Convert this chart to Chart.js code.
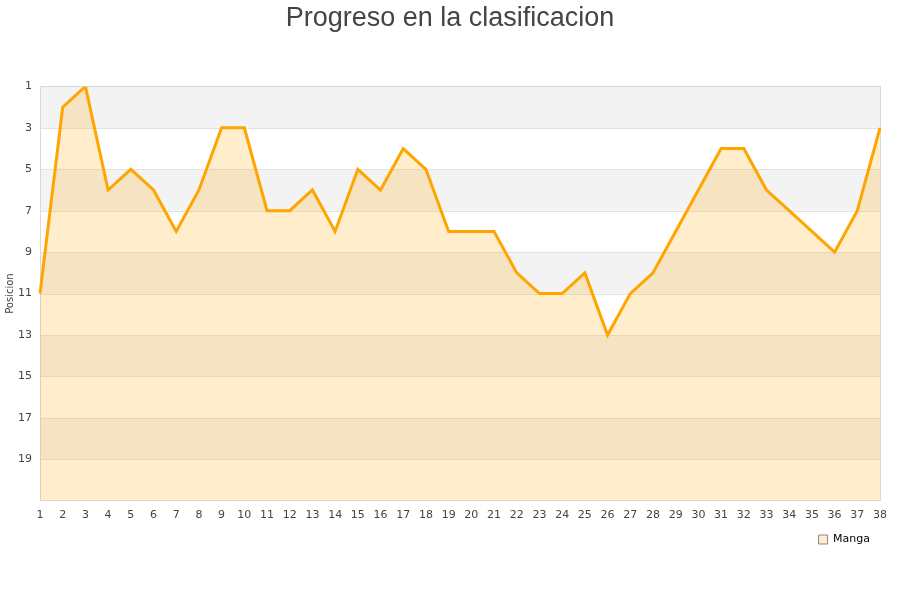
<!DOCTYPE html>
<html>
<head>
<meta charset="utf-8">
<script src="https://cdn.jsdelivr.net/npm/chart.js@4/dist/chart.umd.min.js"></script>
<style>
html, body { margin: 0; padding: 0; background: #fff; }
#wrap { width: 900px; height: 600px; }
</style>
</head>
<body>
<div id="wrap"><canvas id="chart" width="900" height="600"></canvas></div>
<script>
// jornadas y posicion de cada una
const jornadas = ['1','2','3','4','5','6','7','8','9','10','11','12','13','14','15','16','17','18','19','20',
  '21','22','23','24','25','26','27','28','29','30','31','32','33','34','35','36','37','38'];
const posiciones = [11, 2, 1, 6, 5, 6, 8, 6, 3, 3, 7, 7, 6, 8, 5, 6, 4, 5, 8, 8,
  8, 10, 11, 11, 10, 13, 11, 10, 8, 6, 4, 4, 6, 7, 8, 9, 7, 3];
const ticksY = [1, 3, 5, 7, 9, 11, 13, 15, 17, 19];

// bandas grises alternas + marco del area
const bandas = {
  id: 'bandas',
  beforeDatasetsDraw(c) {
    const ctx = c.ctx, a = c.chartArea, y = c.scales.y;
    ctx.save();
    for (let v = 1; v < 21; v += 4) {
      const t = y.getPixelForValue(v), b = y.getPixelForValue(Math.min(v + 2, 21));
      ctx.fillStyle = '#f3f3f3';
      ctx.fillRect(a.left, t, a.right - a.left, b - t);
    }
    ctx.strokeStyle = '#e2e2e2';
    ctx.lineWidth = 1;
    ticksY.forEach(v => {
      const p = Math.round(y.getPixelForValue(v)) + 0.5;
      ctx.beginPath(); ctx.moveTo(a.left, p); ctx.lineTo(a.right, p); ctx.stroke();
    });
    ctx.strokeStyle = '#d9d9d9';
    ctx.strokeRect(Math.round(a.left) + 0.5, Math.round(a.top) + 0.5, Math.round(a.right - a.left), Math.round(a.bottom - a.top));
    ctx.restore();
  }
};

const ctx = document.getElementById('chart').getContext('2d');
const chart = new Chart(ctx, {
  type: 'line',
  data: {
    labels: jornadas,
    datasets: [{
      label: 'Manga',
      data: posiciones,
      borderColor: '#ffa500',
      backgroundColor: 'rgba(255,165,0,0.2)',
      borderWidth: 3,
      pointRadius: 0,
      tension: 0,
      fill: 'start'
    }]
  },
  options: {
    responsive: false,
    animation: false,
    layout: { padding: { left: 0, right: 0, top: 0, bottom: 45 } },
    plugins: {
      title: {
        display: true,
        text: 'Progreso en la clasificacion',
        color: '#444',
        font: { family: 'Liberation Sans', size: 27, weight: 'normal' },
        padding: { top: 2, bottom: 52 }
      },
      legend: {
        position: 'bottom',
        align: 'end',
        fullSize: false,
        labels: {
          color: '#000',
          font: { family: 'DejaVu Sans', size: 11 },
          boxWidth: 9,
          boxHeight: 9,
          padding: 10,
          generateLabels: () => [{
            text: 'Manga',
            fillStyle: 'rgba(255,165,0,0.2)',
            strokeStyle: '#888',
            lineWidth: 1,
            datasetIndex: 0
          }]
        }
      },
      tooltip: { enabled: false }
    },
    scales: {
      x: {
        offset: false,
        afterFit: s => { s.height -= 6; },
        grid: { display: false, drawTicks: false },
        border: { display: false },
        ticks: { color: '#444', font: { family: 'DejaVu Sans', size: 11 }, maxRotation: 0, autoSkip: false, padding: 8 }
      },
      y: {
        reverse: true,
        min: 1,
        max: 21,
        afterBuildTicks: s => { s.ticks = ticksY.map(v => ({ value: v })); },
        afterFit: s => { s.width = 40; },
        grid: { display: false, drawTicks: false },
        border: { display: false },
        ticks: { color: '#444', font: { family: 'DejaVu Sans', size: 11 }, padding: 8 },
        title: { display: true, text: 'Posicion', color: '#444', font: { family: 'DejaVu Sans', size: 10 }, padding: { top: 4, bottom: 0 } }
      },
      // margen derecho
      yR: {
        position: 'right',
        display: true,
        afterFit: s => { s.width = 20; },
        grid: { display: false, drawTicks: false },
        border: { display: false },
        ticks: { display: false }
      }
    }
  },
  plugins: [bandas]
});
</script>
</body>
</html>
